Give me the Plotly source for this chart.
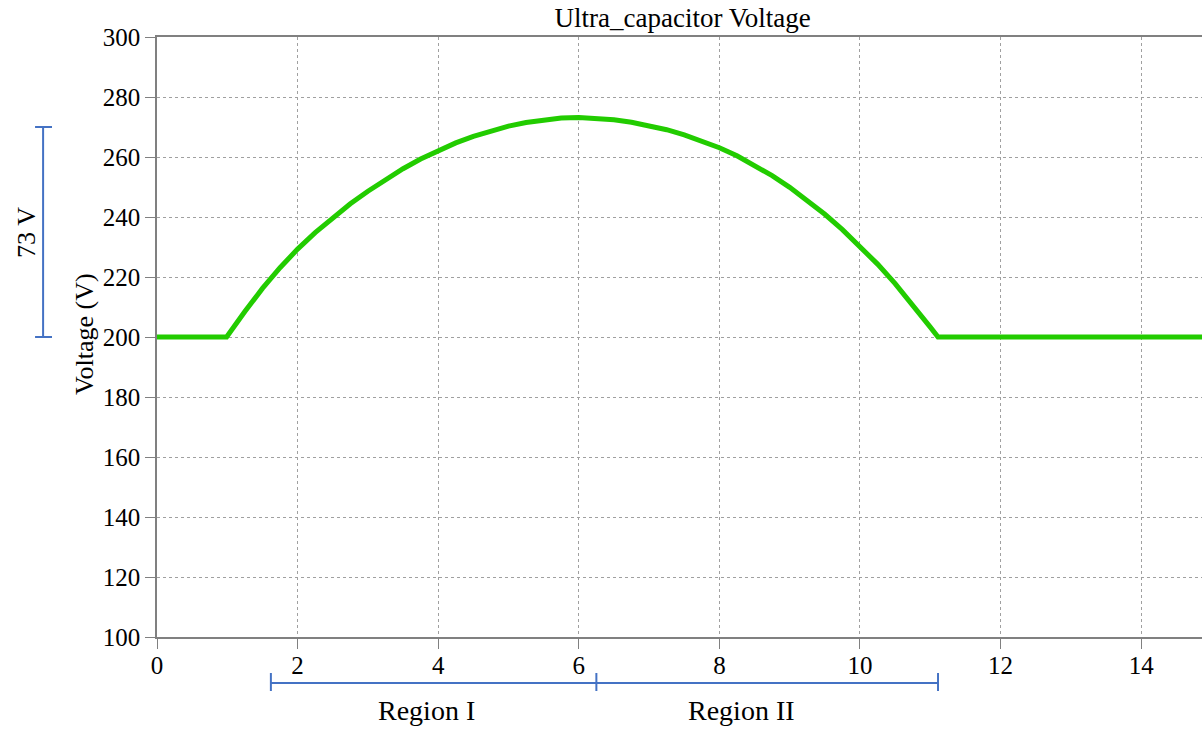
import plotly.graph_objects as go

# Data
time_s = [0.0, 0.99, 1.25, 1.5, 1.75, 2.0, 2.25, 2.5, 2.75, 3.0, 3.25, 3.5, 3.75, 4.0, 4.25, 4.5,
          4.75, 5.0, 5.25, 5.5, 5.75, 6.0, 6.25, 6.5, 6.75, 7.0, 7.25, 7.5, 7.75, 8.0, 8.25, 8.5,
          8.75, 9.0, 9.25, 9.5, 9.75, 10.0, 10.25, 10.5, 10.75, 11.0, 11.11, 14.9]
voltage_v = [200.0, 200.0, 208.5, 216.2, 223.1, 229.3, 234.8, 239.8, 244.4, 248.6, 252.5, 256.1, 259.3, 262.2, 264.7, 266.9,
             268.8, 270.3, 271.5, 272.4, 273.0, 273.2, 272.9, 272.4, 271.6, 270.5, 269.1, 267.4, 265.4, 263.1, 260.4, 257.3,
             253.8, 249.9, 245.6, 240.9, 235.8, 230.3, 224.3, 217.8, 210.8, 203.3, 200.0, 200.0]

x_ticks = [0, 2, 4, 6, 8, 10, 12, 14]
y_ticks = [100, 120, 140, 160, 180, 200, 220, 240, 260, 280, 300]

region_bounds = [1.62, 6.25, 11.11]
region_labels = ["Region I", "Region II"]
region_label_x = [3.83, 8.31]
swing_range = [200, 270]
swing_label = "73 V"

FONT = "Liberation Serif, Times New Roman, serif"
BLUE = "#4472c4"
GREEN = "#22cc00"

fig = go.Figure()
fig.add_trace(go.Scatter(x=time_s, y=voltage_v, mode="lines",
                         line=dict(color=GREEN, width=5), showlegend=False))

shapes = []
# Region bracket (x in data coords, y in paper coords)
ybr = -0.0767
shapes.append(dict(type="line", xref="x", yref="paper", x0=region_bounds[0], x1=region_bounds[-1],
                   y0=ybr, y1=ybr, line=dict(color=BLUE, width=2)))
for b in region_bounds:
    shapes.append(dict(type="line", xref="x", yref="paper", x0=b, x1=b, y0=-0.06, y1=-0.09,
                       line=dict(color=BLUE, width=2)))
# Vertical swing bracket (y in data coords)
xv = -0.109
shapes.append(dict(type="line", xref="paper", yref="y", x0=xv, x1=xv, y0=swing_range[0], y1=swing_range[1],
                   line=dict(color=BLUE, width=2)))
for v in swing_range:
    shapes.append(dict(type="line", xref="paper", yref="y", x0=-0.1167, x1=-0.1005, y0=v, y1=v,
                       line=dict(color=BLUE, width=2)))

annotations = []
for lbl, lx in zip(region_labels, region_label_x):
    annotations.append(dict(text=lbl, x=lx, xref="x", y=-0.123, yref="paper", showarrow=False,
                            xanchor="center", yanchor="middle", font=dict(family=FONT, size=28, color="black")))
annotations.append(dict(text=swing_label, x=-0.1244, xref="paper", y=234.7, yref="y", showarrow=False,
                        textangle=-90, xanchor="center", yanchor="middle",
                        font=dict(family=FONT, size=26, color="black")))
annotations.append(dict(text="Voltage (V)", x=-0.0699, xref="paper", y=0.505, yref="paper", showarrow=False,
                        textangle=-90, xanchor="center", yanchor="middle",
                        font=dict(family=FONT, size=26, color="black")))

fig.update_layout(
    width=1202, height=731,
    margin=dict(l=157, r=0, t=37, b=94),
    paper_bgcolor="white", plot_bgcolor="white",
    font=dict(family=FONT, size=25, color="black"),
    title=dict(text="Ultra_capacitor Voltage", x=0.503, xref="paper", xanchor="center",
               y=1 - 18 / 731, yref="container", yanchor="middle",
               font=dict(family=FONT, size=27, color="black")),
    shapes=shapes, annotations=annotations,
)
fig.update_xaxes(range=[0, 14.865], tickvals=x_ticks, ticktext=[str(t) for t in x_ticks],
                 showline=True, linecolor="#808080", linewidth=1.5, mirror=True,
                 ticks="outside", ticklen=10, tickcolor="#808080", tickwidth=1,
                 ticklabelstandoff=-5,
                 showgrid=True, gridcolor="#a0a0a0", griddash="dot", gridwidth=1,
                 zeroline=False, tickfont=dict(family=FONT, size=25, color="black"))
fig.update_yaxes(range=[100, 300], tickvals=y_ticks, ticktext=[str(t) for t in y_ticks],
                 showline=True, linecolor="#808080", linewidth=1.5,
                 ticks="outside", ticklen=10, tickcolor="#808080", tickwidth=1,
                 showgrid=True, gridcolor="#a0a0a0", griddash="dot", gridwidth=1,
                 zeroline=False, tickfont=dict(family=FONT, size=25, color="black"))

fig.write_html("out.html")
